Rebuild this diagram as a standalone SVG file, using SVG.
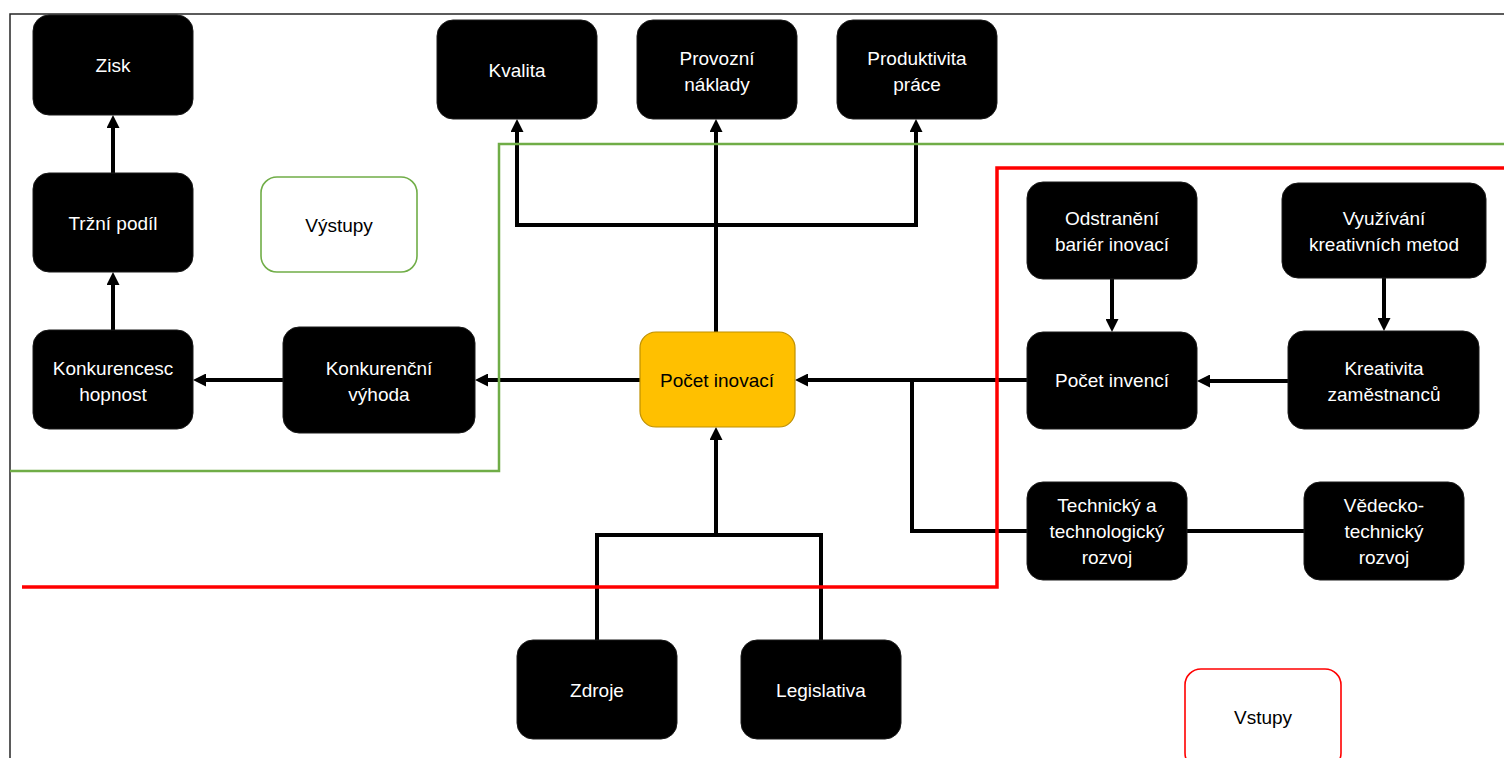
<svg xmlns="http://www.w3.org/2000/svg" width="1504" height="758" viewBox="0 0 1504 758">
  <style>
    .node rect { fill: #000; stroke: #1a1a1a; stroke-width: 1; }
    .node text { fill: #fff; font-family: "Liberation Sans", Arial, sans-serif; font-size: 19px; text-anchor: middle; }
    .core rect { fill: #FFC000; stroke: #BF9000; stroke-width: 1.2; }
    .core text { fill: #000; }
    .label rect { fill: #fff; stroke-width: 1.6; }
    .label text { fill: #000; font-family: "Liberation Sans", Arial, sans-serif; font-size: 19px; text-anchor: middle; }
    .conn path { fill: none; stroke: #000; stroke-width: 4; }
    .zone { fill: none; }
  </style>
  <defs>
    <marker id="head" markerUnits="userSpaceOnUse" markerWidth="13" markerHeight="13" refX="6" refY="6.5" orient="auto">
      <path d="M0,0 L13,6.5 L0,13 z" fill="#000"/>
    </marker>
  </defs>

  <rect width="1504" height="758" fill="#fff"/>
  <!-- outer frame -->
  <path d="M10,758 V14 H1504" fill="none" stroke="#262626" stroke-width="1.5"/>

  <!-- connectors -->
  <g id="connectors" class="conn">
    <path d="M113,173 V122" marker-end="url(#head)"/>
    <path d="M113,330 V279" marker-end="url(#head)"/>
    <path d="M283,380 H200" marker-end="url(#head)"/>
    <path d="M640,380 H482" marker-end="url(#head)"/>
    <path d="M716,332 V126" marker-end="url(#head)"/>
    <path d="M716,225 H517 V126" marker-end="url(#head)"/>
    <path d="M716,225 H916 V126" marker-end="url(#head)"/>
    <path d="M597,640 V535 H821 V640"/>
    <path d="M716,535 V434" marker-end="url(#head)"/>
    <path d="M1027,380 H802" marker-end="url(#head)"/>
    <path d="M1027,531 H912 V380"/>
    <path d="M1304,531 H1187"/>
    <path d="M1112,279 V325" marker-end="url(#head)"/>
    <path d="M1384,278 V324" marker-end="url(#head)"/>
    <path d="M1288,381 H1204" marker-end="url(#head)"/>
  </g>

  <!-- zone boundaries -->
  <path class="zone" d="M10,471 H499 V144 H1504" stroke="#70AD47" stroke-width="2.5"/>
  <path class="zone" d="M22,587 H997 V168 H1504" stroke="#FF0000" stroke-width="3.5"/>

  <!-- nodes -->
  <g id="zisk" class="node"><rect x="33" y="15" width="160" height="100" rx="16"/><text x="113" y="72">Zisk</text></g>
  <g id="trzni-podil" class="node"><rect x="33" y="173" width="160" height="99" rx="16"/><text x="113" y="230">Tržní podíl</text></g>
  <g id="konkurenceschopnost" class="node"><rect x="33" y="330" width="160" height="99" rx="16"/><text x="113" y="375">Konkurencesc</text><text x="113" y="401">hopnost</text></g>
  <g id="konkurencni-vyhoda" class="node"><rect x="283" y="327" width="192" height="106" rx="16"/><text x="379" y="375">Konkurenční</text><text x="379" y="401">výhoda</text></g>
  <g id="vystupy" class="label"><rect x="261" y="177" width="156" height="95" rx="16" stroke="#70AD47"/><text x="339" y="232">Výstupy</text></g>

  <g id="kvalita" class="node"><rect x="437" y="20" width="160" height="99" rx="16"/><text x="517" y="77">Kvalita</text></g>
  <g id="provozni-naklady" class="node"><rect x="637" y="20" width="160" height="99" rx="16"/><text x="717" y="65">Provozní</text><text x="717" y="91">náklady</text></g>
  <g id="produktivita-prace" class="node"><rect x="837" y="20" width="160" height="99" rx="16"/><text x="917" y="65">Produktivita</text><text x="917" y="91">práce</text></g>

  <g id="pocet-inovaci" class="node core"><rect x="640" y="332" width="155" height="95" rx="16"/><text x="717" y="387">Počet inovací</text></g>

  <g id="odstraneni-barier" class="node"><rect x="1027" y="182" width="170" height="97" rx="16"/><text x="1112" y="225">Odstranění</text><text x="1112" y="251">bariér inovací</text></g>
  <g id="vyuzivani-metod" class="node"><rect x="1282" y="183" width="204" height="95" rx="16"/><text x="1384" y="225">Využívání</text><text x="1384" y="251">kreativních metod</text></g>
  <g id="pocet-invenci" class="node"><rect x="1027" y="332" width="170" height="97" rx="16"/><text x="1112" y="387">Počet invencí</text></g>
  <g id="kreativita" class="node"><rect x="1288" y="331" width="191" height="98" rx="16"/><text x="1384" y="375">Kreativita</text><text x="1384" y="401">zaměstnanců</text></g>
  <g id="technicky-rozvoj" class="node"><rect x="1027" y="482" width="160" height="98" rx="16"/><text x="1107" y="512">Technický a</text><text x="1107" y="538">technologický</text><text x="1107" y="564">rozvoj</text></g>
  <g id="vedecko-technicky" class="node"><rect x="1304" y="482" width="160" height="98" rx="16"/><text x="1384" y="512">Vědecko-</text><text x="1384" y="538">technický</text><text x="1384" y="564">rozvoj</text></g>

  <g id="zdroje" class="node"><rect x="517" y="640" width="160" height="99" rx="16"/><text x="597" y="697">Zdroje</text></g>
  <g id="legislativa" class="node"><rect x="741" y="640" width="160" height="99" rx="16"/><text x="821" y="697">Legislativa</text></g>
  <g id="vstupy" class="label"><rect x="1185" y="669" width="156" height="100" rx="16" stroke="#FF0000"/><text x="1263" y="724">Vstupy</text></g>
</svg>
